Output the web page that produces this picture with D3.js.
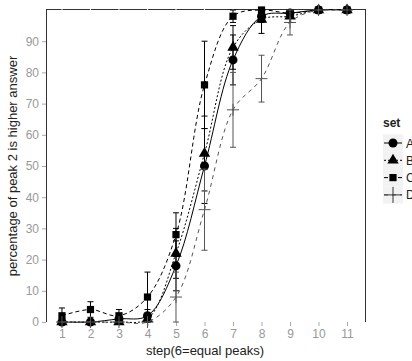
<!DOCTYPE html>
<html>
<head>
<meta charset="utf-8">
<script src="https://cdn.jsdelivr.net/npm/d3@7"></script>
<style>
  body { margin: 0; background: #fff; }
  svg text { font-family: "Liberation Sans", Arial, sans-serif; }
</style>
</head>
<body>
<div id="chart"></div>
<script>
// step on the x axis
var steps = [1, 2, 3, 4, 5, 6, 7, 8, 9, 10, 11];
var setNames = ["A", "B", "C", "D"];

// percentage per set, and the half width of its error bar
var valuesA = [0, 0, 1, 2, 18, 50, 84, 98, 99, 100, 100];
var errorA  = [0, 0, 1, 2, 8, 12, 8, 2, 1, 0, 0];
var valuesB = [0, 0, 0, 1, 22, 54, 88, 97, 98, 100, 100];
var errorB  = [0, 0, 0, 1, 8, 12, 7, 4.5, 2, 0, 0];
var valuesC = [2, 4, 2, 8, 28, 76, 98, 100, 99, 100, 100];
var errorC  = [2.5, 2.5, 2, 8, 7, 14, 2, 0, 1, 0, 0];
var valuesD = [0, 0, 0, 0, 8, 36, 68, 78, 96, 100, 100];
var errorD  = [0, 0, 0, 0, 8, 13, 12, 7.5, 4, 0, 0];

var yTicks = [0, 10, 20, 30, 40, 50, 60, 70, 80, 90];

var W = 412, H = 361;
var svg = d3.select("#chart").append("svg")
  .attr("width", W).attr("height", H);

var x = d3.scaleLinear().domain([0.44, 11.63]).range([46, 365]);
var y = d3.scaleLinear().domain([0, 100]).range([322, 10]);

svg.append("clipPath").attr("id", "panel").append("rect")
  .attr("x", 46).attr("y", 9).attr("width", 320).attr("height", 318);

var series = [
  {name: "A", values: valuesA, err: errorA, dash: null, color: "#000", shape: d3.symbolCircle, size: 64},
  {name: "B", values: valuesB, err: errorB, dash: "2,2", color: "#000", shape: d3.symbolTriangle, size: 56},
  {name: "C", values: valuesC, err: errorC, dash: "4,3", color: "#000", shape: d3.symbolSquare, size: 52},
  {name: "D", values: valuesD, err: errorD, dash: "4,4", color: "#555", shape: null, size: 0}
];

// panel frame
svg.append("line").attr("x1", x.range()[0]).attr("x2", x.range()[1])
  .attr("y1", 9.5).attr("y2", 9.5).attr("stroke", "#333");
svg.append("line").attr("x1", 46.5).attr("x2", 46.5)
  .attr("y1", 9).attr("y2", 322).attr("stroke", "#333");
svg.append("line").attr("x1", 365.5).attr("x2", 365.5)
  .attr("y1", 9).attr("y2", 322).attr("stroke", "#333");
svg.selectAll(".gap").data(steps).enter().append("line")
  .attr("x1", function(d) { return x(d); }).attr("x2", function(d) { return x(d); })
  .attr("y1", 8.5).attr("y2", 10.5).attr("stroke", "#fff");

// axes
var yAxis = svg.append("g").attr("transform", "translate(46,0)")
  .call(d3.axisLeft(y).tickValues(yTicks).tickSize(4).tickPadding(3));
var xAxis = svg.append("g").attr("transform", "translate(0,322)")
  .call(d3.axisBottom(x).tickValues(steps).tickSize(4).tickPadding(3));
[xAxis, yAxis].forEach(function(ax) {
  ax.select(".domain").remove();
  ax.selectAll("line").attr("stroke", "#aaa");
  ax.selectAll("text").attr("fill", "#999").style("font-size", "12px");
});

svg.append("text").attr("x", 205).attr("y", 355)
  .attr("text-anchor", "middle").attr("fill", "#222")
  .style("font-size", "13px").text("step(6=equal peaks)");
svg.append("text")
  .attr("transform", "translate(17,166) rotate(-90)")
  .attr("text-anchor", "middle").attr("fill", "#222")
  .style("font-size", "13px").text("percentage of peak 2 is higher answer");

var line = d3.line()
  .x(function(d) { return x(d.step); })
  .y(function(d) { return y(d.v); })
  .curve(d3.curveCatmullRom.alpha(0.5));

series.forEach(function(s) {
  var pts = steps.map(function(st, i) {
    return {step: st, v: s.values[i], lo: Math.max(0, s.values[i] - s.err[i]), hi: Math.min(100, s.values[i] + s.err[i])};
  });
  var g = svg.append("g");
  g.append("path").datum(pts).attr("d", line)
    .attr("clip-path", "url(#panel)")
    .attr("fill", "none").attr("stroke", s.color).attr("stroke-width", 1)
    .attr("stroke-dasharray", s.dash);

  var bars = pts.filter(function(p) { return p.hi > p.lo; });
  g.selectAll(".eb").data(bars).enter().append("line")
    .attr("x1", function(p) { return x(p.step); }).attr("x2", function(p) { return x(p.step); })
    .attr("y1", function(p) { return y(p.lo); }).attr("y2", function(p) { return y(p.hi); })
    .attr("stroke", s.color);
  ["lo", "hi"].forEach(function(k) {
    g.selectAll(".cap" + k).data(bars).enter().append("line")
      .attr("x1", function(p) { return x(p.step) - 3; }).attr("x2", function(p) { return x(p.step) + 3; })
      .attr("y1", function(p) { return y(p[k]); }).attr("y2", function(p) { return y(p[k]); })
      .attr("stroke", s.color);
  });

  if (s.shape) {
    g.selectAll(".pt").data(pts).enter().append("path")
      .attr("transform", function(p) { return "translate(" + x(p.step) + "," + y(p.v) + ")"; })
      .attr("d", d3.symbol().type(s.shape).size(s.size))
      .attr("fill", "#000");
  } else {
    g.selectAll(".pt").data(pts).enter().append("path")
      .attr("transform", function(p) { return "translate(" + x(p.step) + "," + y(p.v) + ")"; })
      .attr("d", "M-6,0H6M0,-6V6")
      .attr("stroke", s.color).attr("stroke-width", 1);
  }
});

// legend
var leg = svg.append("g").attr("transform", "translate(383,0)");
leg.append("text").attr("x", 0).attr("y", 127)
  .attr("font-weight", "bold").attr("fill", "#222")
  .style("font-size", "12px").text("set");
series.forEach(function(s, i) {
  var cy = 143 + i * 17.3;
  var k = leg.append("g");
  k.append("rect").attr("x", 0).attr("y", cy - 8.6).attr("width", 20).attr("height", 17.3)
    .attr("fill", "#f2f2f2");
  k.append("line").attr("x1", 1).attr("x2", 19).attr("y1", cy).attr("y2", cy)
    .attr("stroke", s.color).attr("stroke-dasharray", s.dash);
  if (s.shape) {
    k.append("path").attr("transform", "translate(10," + cy + ")")
      .attr("d", d3.symbol().type(s.shape).size(s.size)).attr("fill", "#000");
  } else {
    k.append("path").attr("transform", "translate(10," + cy + ")")
      .attr("d", "M-9,0H9M0,-8V8").attr("stroke", "#333");
  }
  k.append("text").attr("x", 23).attr("y", cy + 4.5).attr("fill", "#222")
    .style("font-size", "12px").text(s.name);
});
</script>
</body>
</html>
